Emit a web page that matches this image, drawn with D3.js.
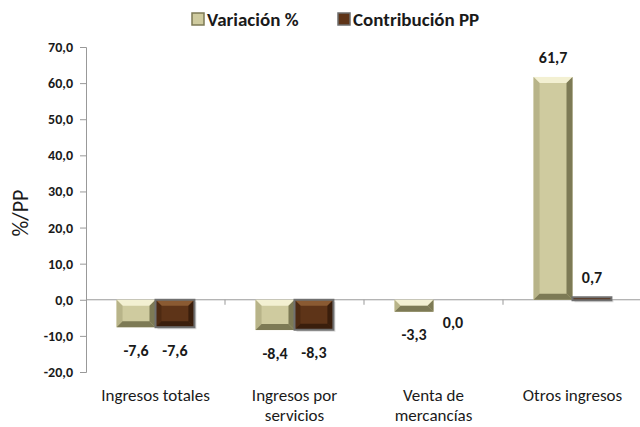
<!DOCTYPE html>
<html>
<head>
<meta charset="utf-8">
<script src="https://cdn.jsdelivr.net/npm/d3@7"></script>
<style>
  body { margin: 0; background: #fff; }
  text { font-family: Carlito, Lato, "Open Sans", sans-serif; fill: #1a1a1a; }
</style>
</head>
<body>
<div id="chart"></div>
<script>
// data
const categories = [["Ingresos totales"], ["Ingresos por", "servicios"], ["Venta de", "mercancías"], ["Otros ingresos"]];
const seriesNames = ["Variación %", "Contribución PP"];
const variacion = [-7.6, -8.4, -3.3, 61.7];
const contribucion = [-7.6, -8.3, 0.0, 0.7];
const yTicks = [-20, -10, 0, 10, 20, 30, 40, 50, 60, 70];

const W = 640, H = 427;
const margin = { top: 47, right: 0, bottom: 55, left: 86 };
const width = 642 - margin.left;

const locale = d3.formatLocale({ decimal: ",", thousands: ".", grouping: [3], currency: ["", ""], minus: "-" });
const fmt = locale.format(".1f");

const svg = d3.select("#chart").append("svg")
    .attr("width", W).attr("height", H);

const x = d3.scaleBand().domain(d3.range(categories.length)).range([margin.left, margin.left + width]);
const y = d3.scaleLinear().domain([-20, 70]).range([372, 47]);
const barW = x.bandwidth() * 0.28;

// y axis
const yAxis = svg.append("g").attr("transform", `translate(${margin.left},0)`)
    .call(d3.axisLeft(y).tickValues(yTicks).tickSize(6).tickFormat(fmt));
yAxis.select(".domain").attr("stroke", "#999");
yAxis.selectAll(".tick line").attr("stroke", "#999");
yAxis.selectAll(".tick text").attr("x", -13).attr("font-size", 14).attr("font-weight", "bold")
    .attr("font-family", "Carlito, Lato, sans-serif").attr("fill", "#1a1a1a");

// zero line with category ticks
const xAxis = svg.append("g").attr("transform", `translate(0,${y(0)})`);
xAxis.append("line").attr("x1", margin.left).attr("x2", margin.left + width).attr("stroke", "#999");
xAxis.selectAll(".ct").data(d3.range(1, categories.length)).join("line")
    .attr("x1", d => x(d)).attr("x2", d => x(d)).attr("y1", 0).attr("y2", 5).attr("stroke", "#999");

// y label
svg.append("text").attr("transform", `translate(28,213) rotate(-90)`)
    .attr("text-anchor", "middle").attr("font-size", 22).text("%/PP");

// bevelled bar
function bevelBar(g, x0, w, v, base, light, dark, side, outline) {
  const yTop = Math.min(y(v), y(0)), yBot = Math.max(y(v), y(0));
  const h = yBot - yTop;
  const b = Math.min(6, h / 2, w / 2);
  const x1 = x0 + w;
  if (outline) {
    g.append("rect").attr("x", x0 + 2).attr("y", yTop + 2).attr("width", w).attr("height", Math.max(h, 3))
      .attr("fill", "#bbb").attr("opacity", 0.5);
  }
  g.append("rect").attr("x", x0).attr("y", yTop).attr("width", w).attr("height", Math.max(h, 1)).attr("fill", base);
  const poly = pts => g.append("polygon").attr("points", pts.map(p => p.join(",")).join(" "));
  if (h > 2) {
    poly([[x0, yTop], [x1, yTop], [x1 - b, yTop + b], [x0 + b, yTop + b]]).attr("fill", light);
    poly([[x0, yTop], [x0 + b, yTop + b], [x0 + b, yBot - b], [x0, yBot]]).attr("fill", side);
    poly([[x1, yTop], [x1, yBot], [x1 - b, yBot - b], [x1 - b, yTop + b]]).attr("fill", dark);
    poly([[x0, yBot], [x0 + b, yBot - b], [x1 - b, yBot - b], [x1, yBot]]).attr("fill", dark);
  }
  if (outline) {
    g.append("rect").attr("x", x0).attr("y", yTop).attr("width", w).attr("height", Math.max(h, 3))
      .attr("fill", "none").attr("stroke", "#707070").attr("stroke-width", 2);
  }
}

const bars = svg.append("g");
variacion.forEach((v, i) => {
  const x0 = x(i) + x.bandwidth() / 2 - barW;
  bevelBar(bars, x0, barW, v, "#cfcb9f", "#f3f0d2", "#7d7a55", "#b8b489", false);
});
contribucion.forEach((v, i) => {
  const x0 = x(i) + x.bandwidth() / 2;
  if (v === 0) return;
  bevelBar(bars, x0, barW, v, "#5e3418", "#8a5a32", "#3a1e0c", "#4e2a12", true);
});

// value labels
const labels = svg.append("g").attr("font-size", 16).attr("font-weight", "bold").attr("text-anchor", "middle");
function valueLabel(v, cx) {
  const yy = v > 0 ? y(v) - 20 : y(v) + 23;
  labels.append("text").attr("x", cx).attr("y", yy).attr("dy", "0.35em").text(fmt(v));
}
variacion.forEach((v, i) => valueLabel(v, x(i) + x.bandwidth() / 2 - barW / 2));
contribucion.forEach((v, i) => valueLabel(v, x(i) + x.bandwidth() / 2 + barW / 2));

// category labels
const cat = svg.append("g").attr("font-size", 17).attr("text-anchor", "middle");
categories.forEach((lines, i) => {
  const t = cat.append("text").attr("x", x(i) + x.bandwidth() / 2).attr("y", 401);
  lines.forEach((l, j) => t.append("tspan").attr("x", x(i) + x.bandwidth() / 2).attr("dy", j ? 20 : 0).text(l));
});

// legend
const legend = svg.append("g").attr("font-size", 19).attr("font-weight", "bold");
const legX = [192, 338];
const legColors = [["#cfcb9f", "#7d7a55"], ["#5e3418", "#6e6e6e"]];
seriesNames.forEach((n, i) => {
  legend.append("rect").attr("x", legX[i]).attr("y", 13).attr("width", 12).attr("height", 12)
    .attr("fill", legColors[i][0]).attr("stroke", legColors[i][1]).attr("stroke-width", 1.5);
  legend.append("text").attr("x", legX[i] + 15).attr("y", 19).attr("dy", "0.35em").text(n);
});
</script>
</body>
</html>
